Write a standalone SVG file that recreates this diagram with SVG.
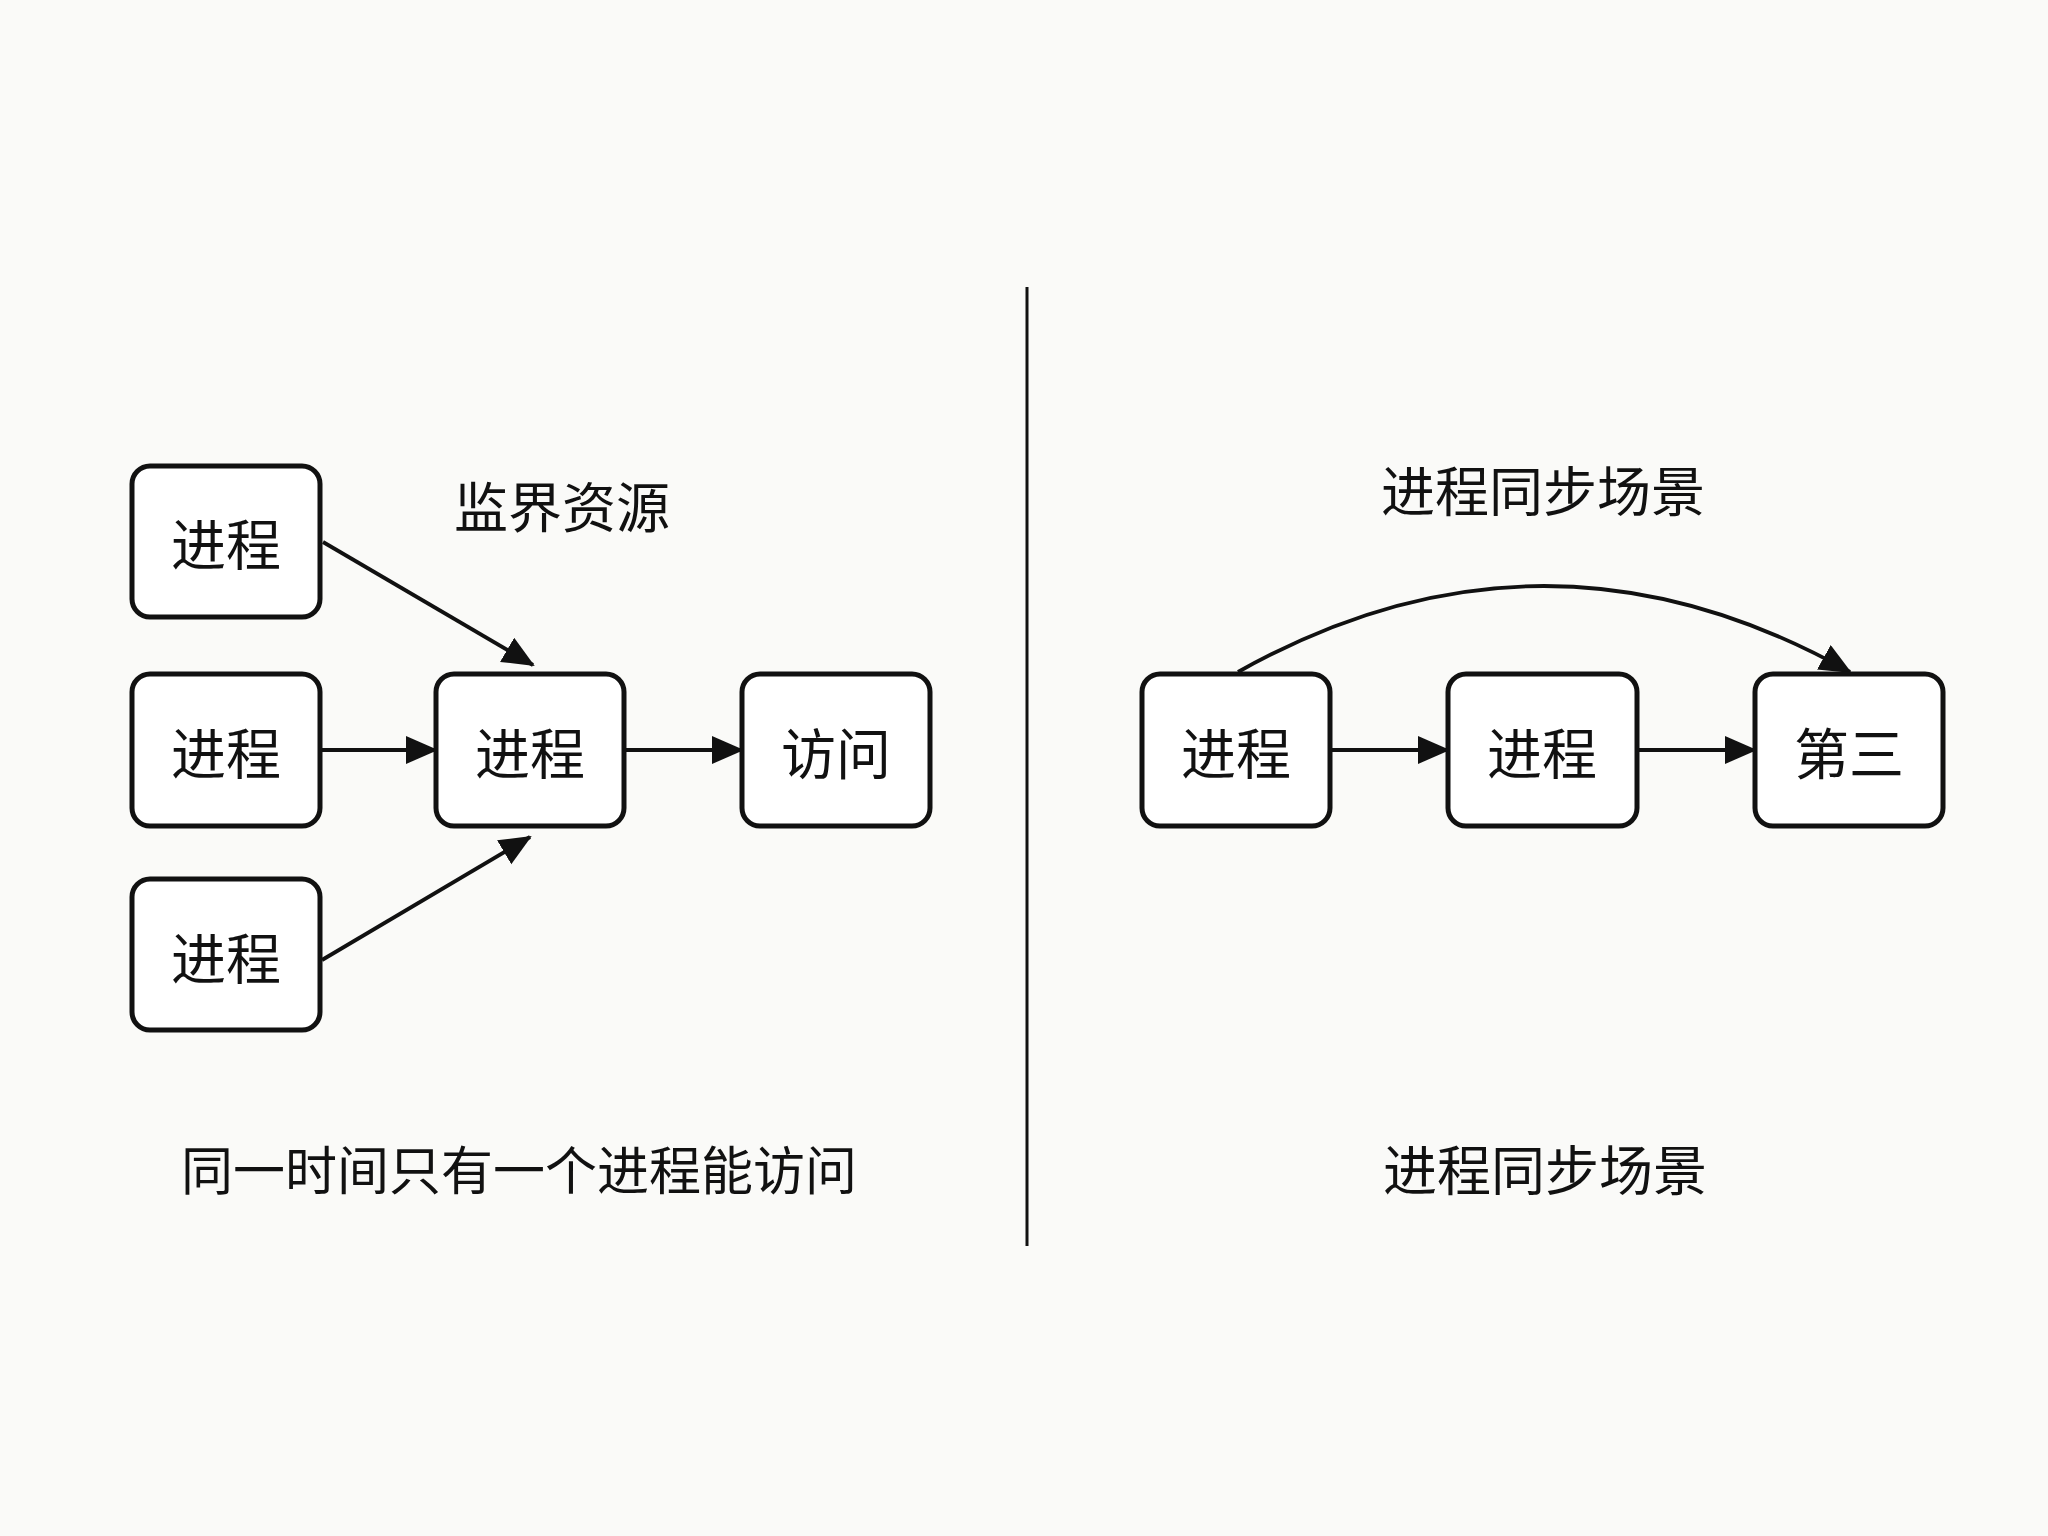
<svg xmlns="http://www.w3.org/2000/svg" width="2048" height="1536" viewBox="0 0 2048 1536">
  <style>
    .box { fill: #ffffff; stroke: #111111; stroke-width: 5; }
    .lbl { font-family: "Noto Sans CJK SC", "Noto Sans", sans-serif; font-size: 55px; fill: #111111; text-anchor: middle; dominant-baseline: central; }
    .ttl { font-family: "Noto Sans CJK SC", "Noto Sans", sans-serif; font-size: 54px; fill: #111111; text-anchor: middle; dominant-baseline: central; }
    .edge { fill: none; stroke: #111111; stroke-width: 3.8; }
  </style>
  <defs>
    <marker id="arr" markerUnits="userSpaceOnUse" markerWidth="34" markerHeight="30" refX="30" refY="14" orient="auto">
      <path d="M0,0 L32,14 L0,28 z" fill="#111111"/>
    </marker>
  </defs>
  <rect x="0" y="0" width="2048" height="1536" fill="#fafaf8"/>

  <g id="divider">
    <line x1="1027" y1="287" x2="1027" y2="1246" stroke="#111111" stroke-width="3"/>
  </g>

  <g id="title-left"><text class="ttl" x="562" y="504">监界资源</text></g>
  <g id="title-right"><text class="ttl" x="1543" y="488">进程同步场景</text></g>
  <g id="caption-left"><text class="ttl" x="519" y="1167" style="font-size:52px">同一时间只有一个进程能访问</text></g>
  <g id="caption-right"><text class="ttl" x="1545" y="1167">进程同步场景</text></g>

  <g id="connectors">
    <path class="edge" d="M323,542 L533,665" marker-end="url(#arr)"/>
    <path class="edge" d="M320,750 L436,750" marker-end="url(#arr)"/>
    <path class="edge" d="M322,960 L530,837" marker-end="url(#arr)"/>
    <path class="edge" d="M624,750 L742,750" marker-end="url(#arr)"/>
    <path class="edge" d="M1330,750 L1448,750" marker-end="url(#arr)"/>
    <path class="edge" d="M1637,750 L1755,750" marker-end="url(#arr)"/>
    <path class="edge" d="M1238,672 Q1544,500 1850,672" marker-end="url(#arr)"/>
  </g>

  <g id="node-p1"><rect class="box" x="132" y="466" width="188" height="151" rx="18"/><text class="lbl" x="226" y="541">进程</text></g>
  <g id="node-p2"><rect class="box" x="132" y="674" width="188" height="152" rx="18"/><text class="lbl" x="226" y="750">进程</text></g>
  <g id="node-p3"><rect class="box" x="132" y="879" width="188" height="151" rx="18"/><text class="lbl" x="226" y="955">进程</text></g>
  <g id="node-center"><rect class="box" x="436" y="674" width="188" height="152" rx="18"/><text class="lbl" x="530" y="750">进程</text></g>
  <g id="node-access"><rect class="box" x="742" y="674" width="188" height="152" rx="18"/><text class="lbl" x="836" y="750">访问</text></g>

  <g id="node-s1"><rect class="box" x="1142" y="674" width="188" height="152" rx="18"/><text class="lbl" x="1236" y="750">进程</text></g>
  <g id="node-s2"><rect class="box" x="1448" y="674" width="189" height="152" rx="18"/><text class="lbl" x="1542" y="750">进程</text></g>
  <g id="node-s3"><rect class="box" x="1755" y="674" width="188" height="152" rx="18"/><text class="lbl" x="1849" y="750">第三</text></g>
</svg>
